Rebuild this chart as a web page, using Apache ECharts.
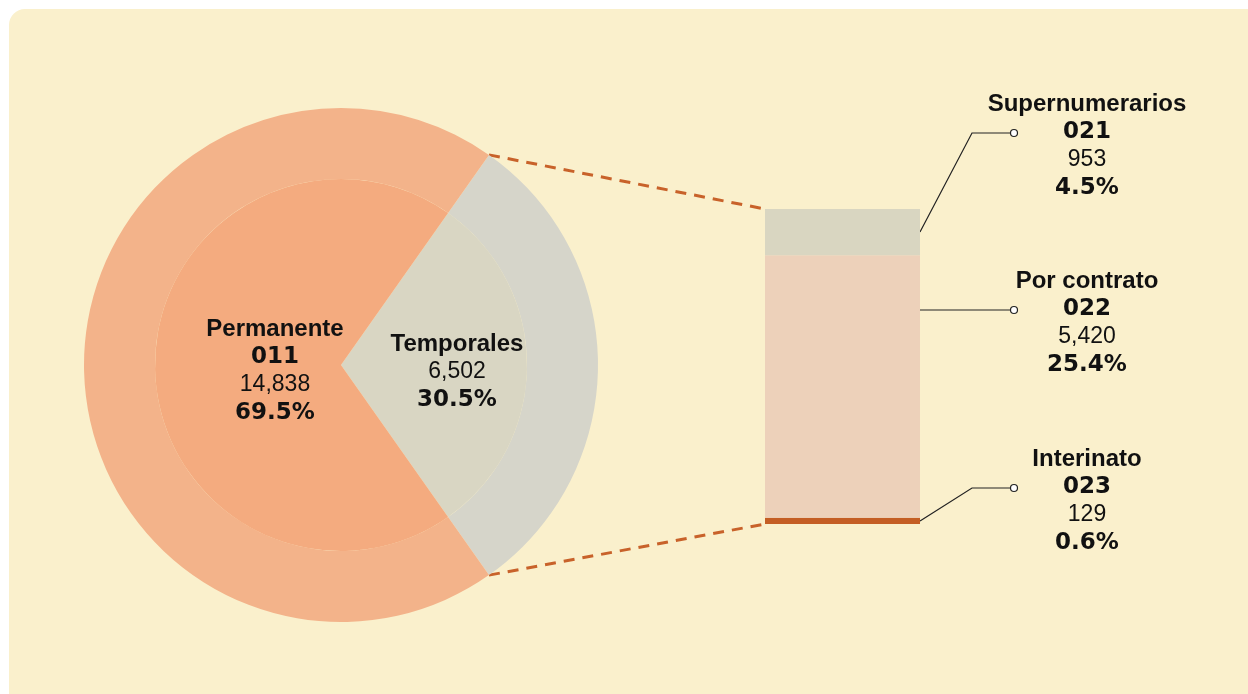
<!DOCTYPE html>
<html>
<head>
<meta charset="utf-8">
<script src="https://cdn.jsdelivr.net/npm/echarts@6/dist/echarts.min.js"></script>
<style>
  html, body { margin: 0; padding: 0; background: #ffffff; }
  #panel { position: absolute; left: 9px; top: 9px; width: 1260px; height: 700px; background: #FAF0CC; border-radius: 16px; }
  #chart { position: absolute; left: 0; top: 0; width: 1248px; height: 694px; }
</style>
</head>
<body>
<div id="panel"></div>
<div id="chart"></div>
<script>
// pie (tipo de personal)
const pieNames = ['Temporales', 'Permanente'];
const pieCodes = ['', '011'];
const pieValues = [6502, 14838];
const piePercents = ['30.5%', '69.5%'];

// barra desglose de temporales (de abajo hacia arriba)
const barNames = ['Interinato', 'Por contrato', 'Supernumerarios'];
const barCodes = ['023', '022', '021'];
const barValues = [129, 5420, 953];
const barPercents = ['0.6%', '25.4%', '4.5%'];

const fmt = v => v.toLocaleString('en-US');
const font = 'Arial, Helvetica, sans-serif';
const fontWide = '"DejaVu Sans", Verdana, sans-serif';

const outerColors = ['#D6D5CA', '#F3B38A'];
const innerColors = ['#D9D6C3', '#F4AB7F'];
const barColors = ['#C45E24', '#EDD1BA', '#D9D6C1'];

const tempTotal = pieValues[0];
const tempShare = pieValues[0] / (pieValues[0] + pieValues[1]);
// Temporales centrado a la derecha
const startAngle = tempShare * 180;

const chart = echarts.init(document.getElementById('chart'), null, { renderer: 'canvas' });

const rich = {
  n: { fontFamily: font, fontSize: 24, fontWeight: 'bold', color: '#111', lineHeight: 28, align: 'center' },
  c: { fontFamily: fontWide, fontSize: 23, fontWeight: 'bold', color: '#111', lineHeight: 28, align: 'center' },
  v: { fontFamily: font, fontSize: 23, color: '#111', lineHeight: 28, align: 'center' },
  p: { fontFamily: fontWide, fontSize: 23, fontWeight: 'bold', color: '#111', lineHeight: 28, align: 'center' }
};

const option = {
  animation: false,
  backgroundColor: 'transparent',
  textStyle: { fontFamily: font },
  grid: { left: 765, top: 209, width: 155, height: 315 },
  xAxis: { type: 'category', data: ['Temporales'], show: false },
  yAxis: { type: 'value', min: 0, max: tempTotal, show: false },
  series: [
    {
      type: 'pie',
      center: [341, 365],
      radius: [186, 257],
      startAngle: startAngle,
      clockwise: true,
      silent: true,
      label: { show: false },
      labelLine: { show: false },
      data: pieNames.map((n, i) => ({ name: n, value: pieValues[i], itemStyle: { color: outerColors[i] } }))
    },
    {
      type: 'pie',
      center: [341, 365],
      radius: [0, 186],
      startAngle: startAngle,
      clockwise: true,
      silent: true,
      label: {
        show: true,
        position: 'inside',
        align: 'center',
        fontFamily: font,
        rich: rich,
        formatter: p => {
          const i = p.dataIndex;
          const lines = ['{n|' + pieNames[i] + '}'];
          if (pieCodes[i]) lines.push('{c|' + pieCodes[i] + '}');
          lines.push('{v|' + fmt(pieValues[i]) + '}');
          lines.push('{p|' + piePercents[i] + '}');
          return lines.join('\n');
        }
      },
      labelLayout: p => (p.dataIndex === 0 ? { dx: 10, dy: 3.5 } : { dx: 15, dy: 3 }),
      data: pieNames.map((n, i) => ({ name: n, value: pieValues[i], itemStyle: { color: innerColors[i] } }))
    }
  ].concat(barNames.map((n, i) => ({
    type: 'bar',
    name: n,
    stack: 'temp',
    barWidth: 155,
    silent: true,
    itemStyle: { color: barColors[i] },
    data: [barValues[i]]
  })))
};
chart.setOption(option);

// callouts y lineas punteadas a partir de las escalas
function drawExtras() {
  const graphics = [];
  // lineas punteadas del pie a la barra
  const cx = 341, cy = 365, r = 257;
  const a = tempShare * Math.PI;
  const topPie = [cx + r * Math.cos(a), cy - r * Math.sin(a)];
  const botPie = [cx + r * Math.cos(a), cy + r * Math.sin(a)];
  const barTopLeft = chart.convertToPixel({ gridIndex: 0 }, [0, tempTotal]);
  const barBot = chart.convertToPixel({ gridIndex: 0 }, [0, 0]);
  const left = barTopLeft[0] - 77.5, right = barTopLeft[0] + 77.5;
  [[topPie, [left, barTopLeft[1]]], [botPie, [left, barBot[1]]]].forEach(([p, q]) => {
    graphics.push({
      type: 'line', silent: true,
      shape: { x1: p[0], y1: p[1], x2: q[0], y2: q[1] },
      style: { stroke: '#C8622A', lineWidth: 3, lineDash: [11, 8] }
    });
  });

  // callouts de la barra
  const labelY = [458, 280, 103];  // primera linea de cada bloque
  const dotX = 1014, textX = 1087;
  const richG = {};
  Object.keys(rich).forEach(k => { richG[k] = Object.assign({}, rich[k], { fill: rich[k].color }); });
  let cum = 0;
  barNames.forEach((n, i) => {
    const mid = chart.convertToPixel({ gridIndex: 0 }, [0, cum + barValues[i] / 2])[1];
    cum += barValues[i];
    const ty = labelY[i];
    const dotY = ty + 30;
    let anchorY = mid;
    if (i === 0) anchorY = chart.convertToPixel({ gridIndex: 0 }, [0, 0])[1] - 3;
    const pts = i === 1
      ? [[right, dotY], [dotX, dotY]]
      : [[right, anchorY], [972, dotY], [dotX, dotY]];
    graphics.push({
      type: 'polyline', silent: true,
      shape: { points: pts },
      style: { stroke: '#222', lineWidth: 1.2, fill: null }
    });
    graphics.push({
      type: 'circle', silent: true,
      shape: { cx: dotX, cy: dotY, r: 3.5 },
      style: { fill: '#fff', stroke: '#222', lineWidth: 1.2 }
    });
    graphics.push({
      type: 'text', silent: true,
      x: textX, y: ty - 13,
      style: {
        text: '{n|' + n + '}\n{c|' + barCodes[i] + '}\n{v|' + fmt(barValues[i]) + '}\n{p|' + barPercents[i] + '}',
        align: 'center',
        verticalAlign: 'top',
        fontFamily: font,
        rich: richG
      }
    });
  });
  chart.setOption({ graphic: graphics });
}
drawExtras();
</script>
</body>
</html>
